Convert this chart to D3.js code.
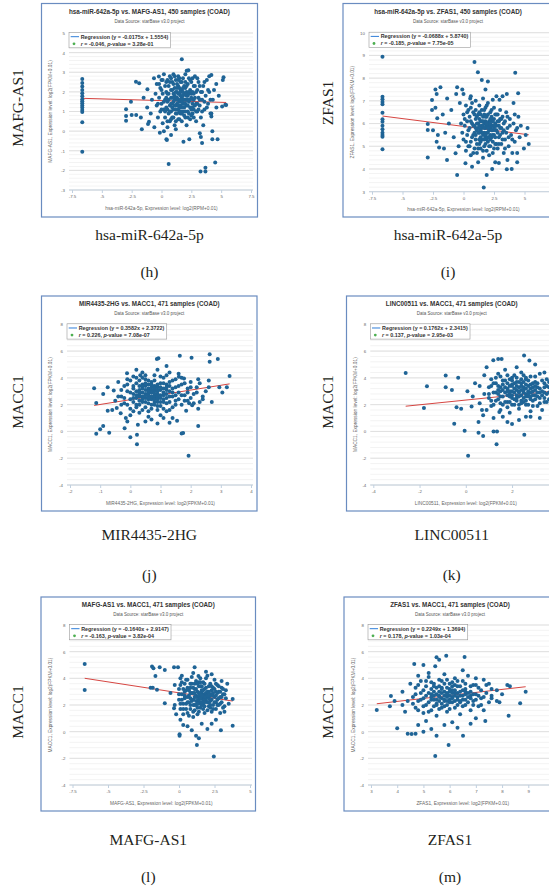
<!DOCTYPE html>
<html>
<head>
<meta charset="utf-8">
<script src="https://cdn.jsdelivr.net/npm/d3@7"></script>
<style>
body { margin: 0; background: #fff; }
svg { display: block; }
</style>
</head>
<body>
<script>
// ---- data ----
const titles = [
    "hsa-miR-642a-5p vs. MAFG-AS1, 450 samples (COAD)",
    "hsa-miR-642a-5p vs. ZFAS1, 450 samples (COAD)",
    "MIR4435-2HG vs. MACC1, 471 samples (COAD)",
    "LINC00511 vs. MACC1, 471 samples (COAD)",
    "MAFG-AS1 vs. MACC1, 471 samples (COAD)",
    "ZFAS1 vs. MACC1, 471 samples (COAD)"
]
const subtitle = "Data Source: starBase v3.0 project"
const xTitles = [
    "hsa-miR-642a-5p, Expression level: log2(RPM+0.01)",
    "hsa-miR-642a-5p, Expression level: log2(RPM+0.01)",
    "MIR4435-2HG, Expression level: log2(FPKM+0.01)",
    "LINC00511, Expression level: log2(FPKM+0.01)",
    "MAFG-AS1, Expression level: log2(FPKM+0.01)",
    "ZFAS1, Expression level: log2(FPKM+0.01)"
]
const yTitles = [
    "MAFG-AS1, Expression level: log2(FPKM+0.01)",
    "ZFAS1, Expression level: log2(FPKM+0.01)",
    "MACC1, Expression level: log2(FPKM+0.01)",
    "MACC1, Expression level: log2(FPKM+0.01)",
    "MACC1, Expression level: log2(FPKM+0.01)",
    "MACC1, Expression level: log2(FPKM+0.01)"
]
const slopes = [-0.0175, -0.0688, 0.3582, 0.1762, -0.1640, 0.2249]
const intercepts = [1.5554, 5.8740, 2.3722, 2.3415, 2.9147, 1.3694]
const rValues = ["-0.046", "-0.185", "0.226", "0.137", "-0.163", "0.178"]
const pValues = ["3.28e-01", "7.75e-05", "7.08e-07", "2.95e-03", "3.82e-04", "1.03e-04"]

const outerXLabels = ["hsa-miR-642a-5p", "hsa-miR-642a-5p", "MIR4435-2HG", "LINC00511", "MAFG-AS1", "ZFAS1"]
const outerYLabels = ["MAFG-AS1", "ZFAS1", "MACC1", "MACC1", "MACC1", "MACC1"]
const tags = ["(h)", "(i)", "(j)", "(k)", "(l)", "(m)"]

const xTicksH = [-7.5, -5, -2.5, 0, 2.5, 5, 7.5]
const xTicksI = [-7.5, -5, -2.5, 0, 2.5, 5, 7.5]
const xTicksJ = [-2, -1, 0, 1, 2, 3, 4]
const xTicksK = [-4, -2, 0, 2, 4]
const xTicksL = [-7.5, -5, -2.5, 0, 2.5, 5]
const xTicksM = [3, 4, 5, 6, 7, 8, 9, 10]
const yTicksH = [-3, -2, -1, 0, 1, 2, 3, 4, 5]
const yTicksI = [3, 4, 5, 6, 7, 8, 9, 10]
const yTicksMACC1 = [-4, -2, 0, 2, 4, 6, 8]

const pointsH = [
    [-6.64,2.65],[-6.64,2.45],[-6.64,2.27],[-6.64,2.1],[-6.64,1.93],[-6.64,1.78],[-6.64,1.63],[-6.64,1.52],[-6.64,1.42],[-6.64,1.31],[-6.64,1.2],[-6.64,1.08],[-6.64,0.98],[-6.64,0.45],[-6.64,-1.05],
    [-2.97,1.11],[-2.97,0.77],[-2.97,0.53],[-2.5,0.82],[-2.12,0.82],[-1.73,0.7],[-1.65,0.09],[-1.13,0.36],[-1.05,0.48],[-2.56,1.5],[-2.14,2.52],[-1.87,2.44],[-1.18,2.13],[-0.63,2.69],[-0.22,2.78],[-1.5,1.7],[-1.2,1.2],[-0.9,0.9],[-0.8,1.6],[-0.6,0.2],[-0.14,-0.08],
    [0.41,-0.42],[0.45,-0.45],[0.8,-0.2],[1.84,-0.54],[2.33,-0.42],[3.21,-0.11],[3.3,-0.3],[3.4,-0.6],[4.26,-0.42],[4.7,-0.42],[4.26,0.0],[4.18,0.74],[4.18,0.9],[5.08,1.25],[5.35,1.35],[5.42,1.33],[4.59,2.4],[5.14,2.6],[5.2,2.75],[4.18,2.86],[1.7,3.66],[2.11,3.08],[2.25,3.1],
    [0.6,-1.68],[3.27,-2.06],[3.68,-1.86],[3.68,-2.06],[4.5,-1.6],
    [-0.5,1.9],[-0.4,2.4],[-0.4,1.3],[-0.3,0.7],[-0.2,1.7],[-0.1,2.2],[-0.1,1.0],[0.0,2.6],[0.0,1.4],[0.1,0.4],[0.1,1.9],[0.2,2.9],[0.2,1.1],[0.3,2.3],[0.3,1.6],[0.3,0.7],[0.4,2.0],[0.4,1.2],[0.5,2.6],[0.5,0.2],[0.5,1.5],[0.6,1.9],[0.6,0.9],[0.6,2.3],[0.7,1.3],[0.7,2.8],[0.7,0.5],[0.8,1.7],[0.8,2.1],[0.8,1.0],[0.9,2.5],[0.9,1.4],[0.9,0.7],[1.0,1.9],[1.0,2.9],[1.0,1.1],[1.1,2.2],[1.1,1.6],[1.1,0.3],[1.2,1.3],[1.2,2.6],[1.2,0.9],[1.3,2.0],[1.3,1.7],[1.3,2.4],[1.4,1.1],[1.4,0.6],[1.4,2.8],[1.5,1.5],[1.5,2.2],[1.5,1.9],[1.6,0.9],[1.6,2.5],[1.6,1.3],[1.7,1.7],[1.7,2.1],[1.7,0.5],[1.8,1.4],[1.8,2.7],[1.8,1.0],[1.9,1.9],[1.9,2.3],[1.9,1.2],[2.0,1.6],[2.0,0.7],[2.0,2.9],[2.1,2.0],[2.1,1.3],[2.1,0.3],[2.2,1.8],[2.2,2.4],[2.2,1.0],[2.3,1.5],[2.3,2.7],[2.4,1.2],[2.4,2.1],[2.4,0.6],[2.5,1.7],[2.5,2.5],[2.6,1.4],[2.6,0.9],[2.6,2.0],[2.7,2.3],[2.7,1.1],[2.8,1.7],[2.8,2.8],[2.9,1.4],[2.9,0.5],[3.0,2.1],[3.0,1.0],[3.1,1.7],[3.1,2.5],[3.2,1.3],[3.3,2.0],[3.3,0.7],[3.4,1.6],[3.5,2.3],[3.6,1.1],[3.7,1.8],[3.8,2.6],[3.9,1.4],[4.0,2.0],[4.1,0.9],[4.3,1.6],[4.4,2.1],[4.6,1.2],[4.8,1.8],[3.5,0.3],[1.2,0.1],[0.2,0.0],
    [1.0,1.5],[1.4,1.6],[1.6,1.8],[1.8,1.6],[2.0,1.4],[1.3,1.4],[1.7,1.2],[1.5,1.0],[1.9,1.6],[2.3,1.9],[1.1,1.8],[0.8,1.4],[2.5,1.1],[1.6,2.1],[2.0,2.2],[1.2,2.0],[1.4,2.3],[2.7,1.6],[0.5,1.1],[0.4,1.7],
    [-0.3,1.4],[-0.2,2.4],[0.0,1.1],[0.0,2.1],[0.1,2.6],[0.2,1.5],[0.3,1.0],[0.4,2.5],[0.5,1.9],[0.5,0.5],[0.6,1.6],[0.7,2.5],[0.7,1.0],[0.8,0.6],[0.8,2.7],[0.9,1.2],[0.9,2.1],[1.0,0.7],[1.0,2.4],[1.1,1.3],[1.1,2.8],[1.2,1.7],[1.2,0.5],[1.3,2.2],[1.3,0.9],[1.4,1.9],[1.4,2.6],[1.5,1.2],[1.5,0.6],[1.5,2.7],[1.6,1.6],[1.6,2.0],[1.7,2.5],[1.7,0.9],[1.8,1.8],[1.8,2.2],[1.9,0.8],[1.9,1.4],[2.0,2.5],[2.0,1.0],[2.1,1.6],[2.1,2.3],[2.2,0.7],[2.2,1.3],[2.3,2.0],[2.3,0.9],[2.4,1.6],[2.4,2.6],[2.5,1.9],[2.5,0.8],[2.6,1.2],[2.6,2.7],[2.7,1.9],[2.7,0.7],[2.8,1.3],[2.8,2.3],[2.9,2.0],[2.9,1.0],[3.0,1.4],[3.0,2.7],[3.1,1.1],[3.2,2.3],[3.2,1.6],[3.4,1.0],[3.4,2.0],[3.6,1.5],[3.6,2.5],[3.8,1.2],[3.9,2.1],[4.1,1.6],[4.0,2.8],[0.9,1.7],[1.3,1.6],[1.7,1.5],[2.1,1.8],[1.2,1.1],[1.6,1.0],[2.0,1.9],[1.4,1.3],[1.8,2.0],[2.2,1.6]
]

const pointsI = [
    [-6.64,8.94],[-6.64,7.18],[-6.64,7.07],[-6.64,6.95],[-6.64,6.85],[-6.64,6.48],[-6.64,6.19],[-6.64,6.08],[-6.64,5.9],[-6.64,5.75],[-6.64,5.6],[-6.64,5.5],[-6.64,5.42],[-6.64,4.87],
    [-2.58,7.04],[-2.3,7.5],[-2.2,7.3],[-1.89,7.6],[-1.34,7.1],[-0.52,7.6],[-0.6,7.3],[-0.1,7.5],[0.0,7.3],[0.55,7.1],[0.9,8.71],[1.18,8.26],[1.5,7.92],[2.0,7.85],[1.8,7.5],[2.4,7.05],[2.95,7.05],[3.2,7.2],[3.55,7.3],[4.24,8.24],[4.48,7.33],[4.1,6.9],
    [-2.58,6.6],[-2.93,5.98],[-2.93,5.72],[-2.93,4.51],[-2.3,6.7],[-2.15,6.23],[-2.5,5.7],[-2.1,5.5],[-2.2,5.2],[-2.0,4.95],[-1.6,4.9],[-1.35,4.4],[-0.65,4.69],[-0.52,3.73],[0.16,4.25],[0.7,4.1],[1.66,3.19],[1.9,3.73],[2.35,4.0],[2.9,4.26],[3.55,3.99],[3.95,4.0],[4.4,4.3],[4.4,4.7],[5.1,5.5],[5.35,5.1],[4.95,4.9],[4.7,5.9],[5.25,5.8],
    [-1.7,6.4],[-1.2,6.0],[-1.0,6.6],[-0.8,5.4],[-1.5,5.6],[-0.3,6.9],[-0.4,5.0],
    [0.0,6.4],[0.0,5.3],[0.1,5.9],[0.2,6.8],[0.2,4.8],[0.3,6.1],[0.3,5.5],[0.4,6.6],[0.4,5.0],[0.5,5.8],[0.5,6.3],[0.6,5.2],[0.6,4.6],[0.7,6.0],[0.7,6.9],[0.8,5.5],[0.8,6.5],[0.9,4.9],[0.9,5.9],[1.0,6.2],[1.0,5.3],[1.0,7.0],[1.1,5.7],[1.1,4.7],[1.2,6.4],[1.2,6.0],[1.3,5.1],[1.3,5.6],[1.3,6.8],[1.4,6.1],[1.4,4.9],[1.5,5.8],[1.5,6.6],[1.5,5.3],[1.6,6.3],[1.6,4.5],[1.7,5.6],[1.7,6.0],[1.7,5.0],[1.8,6.7],[1.8,5.4],[1.9,5.9],[1.9,6.3],[1.9,4.8],[2.0,5.6],[2.0,6.9],[2.0,5.2],[2.1,6.1],[2.1,4.6],[2.2,5.8],[2.2,6.5],[2.2,5.0],[2.3,5.4],[2.3,6.2],[2.4,5.9],[2.4,4.7],[2.5,6.7],[2.5,5.5],[2.6,6.0],[2.6,5.1],[2.7,6.4],[2.7,5.7],[2.8,4.9],[2.8,6.1],[2.9,5.4],[3.0,6.6],[3.0,5.8],[3.1,5.1],[3.1,6.2],[3.2,5.6],[3.3,4.7],[3.3,6.0],[3.4,5.3],[3.5,6.5],[3.6,5.8],[3.7,5.0],[3.8,6.2],[3.9,5.5],[4.0,4.7],[4.1,6.0],[4.2,5.2],[4.3,5.7],[4.5,6.3],[4.6,5.4],[3.6,4.4],[2.6,4.3],[1.2,4.3],[0.6,7.2],[1.6,7.1],[2.7,7.2],
    [1.2,5.6],[1.5,5.9],[1.8,5.8],[2.0,6.0],[1.6,5.5],[2.2,5.5],[1.4,5.4],[1.9,5.3],[2.4,5.7],[1.1,6.0],[1.7,6.4],[2.3,5.9],[2.6,5.7],[0.9,5.6],[1.3,6.2],[2.1,5.7],[1.8,6.1],[2.5,6.2],[2.9,5.9],[1.0,5.8],
    [-0.2,6.0],[-0.1,5.6],[0.1,6.2],[0.2,5.2],[0.3,6.5],[0.4,5.7],[0.5,5.0],[0.6,6.1],[0.6,6.7],[0.7,5.4],[0.8,5.9],[0.8,4.7],[0.9,6.4],[1.0,5.5],[1.0,6.6],[1.1,5.1],[1.1,6.3],[1.2,5.8],[1.2,4.9],[1.3,5.9],[1.3,6.5],[1.4,5.2],[1.4,6.4],[1.5,5.6],[1.5,6.1],[1.6,4.8],[1.6,5.9],[1.7,6.6],[1.7,5.3],[1.8,5.1],[1.8,6.3],[1.9,5.6],[1.9,6.8],[2.0,5.4],[2.0,6.4],[2.1,5.0],[2.1,5.9],[2.2,6.2],[2.2,5.3],[2.3,5.7],[2.3,6.6],[2.4,5.2],[2.4,6.1],[2.5,5.8],[2.5,4.9],[2.6,6.4],[2.6,5.4],[2.7,5.9],[2.7,5.1],[2.8,6.4],[2.8,5.6],[2.9,6.1],[2.9,5.1],[3.0,5.5],[3.0,6.2],[3.1,5.8],[3.2,6.3],[3.2,5.3],[3.3,5.7],[3.4,6.1],[3.4,4.9],[3.5,5.6],[3.6,6.3],[3.7,5.4],[3.8,5.9],[4.0,5.3],[4.2,6.4],[4.4,5.8],[1.4,5.7],[1.7,5.8],[2.0,5.8],[2.2,6.0],[1.6,6.1],[1.9,6.0],[2.4,5.5],[1.3,5.3],[2.1,5.4],[2.6,5.9],[1.8,5.5],[2.3,6.3]
]

const pointsJ = [
    [-1.2,3.22],[-0.75,3.3],[-1.13,2.12],[-1.13,-0.17],[-1.0,0.16],[-0.9,0.4],[-0.7,-0.1],[0.0,-0.44],[0.22,-0.96],[0.22,-0.25],[1.93,-1.82],[1.7,-0.15],[1.75,-0.12],[2.25,0.4],[0.93,5.46],[0.88,5.4],[1.64,5.65],[2.03,5.5],[2.63,5.76],[2.9,5.4],[2.63,5.2],[1.2,4.89],[3.29,4.14],[1.61,4.09],[1.78,3.95],[2.25,3.9],[2.6,3.3],[2.95,3.3],[3.05,2.9],[-0.6,1.6],[-0.75,1.55],[-0.45,1.75],[-0.3,2.0],[-0.32,1.35],[-0.15,1.0],[-0.1,0.75],[-0.19,0.23],[0.25,0.5],[0.5,0.75],[0.7,0.9],[0.9,0.6],[1.1,1.0],[1.3,0.65],[1.4,1.0],[1.55,0.8],[1.95,2.1],[2.05,1.95],[2.25,1.7],[1.85,1.55],[-0.55,3.05],[-0.4,2.6],[-0.11,4.34],[0.33,4.2],[-0.9,2.8],[2.4,2.6],[2.7,2.2],[3.2,3.3],
    [-0.3,2.6],[-0.2,3.4],[-0.2,2.1],[-0.1,3.0],[-0.1,3.9],[0.0,2.4],[0.0,1.7],[0.1,3.2],[0.1,2.8],[0.1,4.1],[0.2,2.0],[0.2,3.6],[0.3,2.6],[0.3,1.4],[0.3,3.1],[0.4,4.4],[0.4,2.2],[0.4,3.5],[0.5,2.8],[0.5,1.8],[0.5,3.9],[0.6,2.4],[0.6,3.2],[0.6,1.5],[0.7,2.9],[0.7,3.7],[0.7,2.0],[0.8,2.6],[0.8,3.4],[0.8,4.2],[0.9,2.2],[0.9,3.0],[0.9,1.6],[1.0,2.7],[1.0,3.6],[1.0,1.9],[1.1,3.2],[1.1,2.4],[1.1,4.0],[1.2,2.8],[1.2,1.5],[1.2,3.5],[1.3,2.2],[1.3,3.0],[1.4,2.6],[1.4,3.8],[1.4,1.8],[1.5,3.3],[1.5,2.3],[1.6,2.9],[1.6,4.3],[1.7,2.0],[1.7,3.5],[1.8,2.7],[1.9,3.2],[1.9,2.3],[2.0,3.7],[2.1,2.8],[2.2,3.3],[2.3,2.2],[2.5,3.0],[2.6,3.8],[0.2,4.6],[0.9,4.6],[1.3,4.4],[-0.5,2.3],[-0.4,3.7],[0.0,1.2],[0.6,1.1],[1.0,1.2],
    [0.4,2.9],[0.6,2.7],[0.8,3.0],[0.5,2.5],[0.7,2.4],[0.9,2.8],[0.3,2.3],[0.6,3.5],[0.8,2.2],[1.0,3.1],[0.4,3.2],[0.2,2.5],[1.1,2.7],[0.7,3.3],[0.5,3.1],[0.9,3.3],[1.2,2.5],[0.3,3.8],[1.3,3.4],[0.1,2.2],
    [-0.3,3.1],[-0.2,2.5],[-0.1,2.0],[-0.1,3.5],[0.0,2.9],[0.0,3.8],[0.1,2.5],[0.1,1.5],[0.2,3.0],[0.2,4.0],[0.2,1.8],[0.3,2.8],[0.3,3.4],[0.4,1.6],[0.4,2.6],[0.4,4.0],[0.5,2.2],[0.5,3.4],[0.5,4.2],[0.6,2.9],[0.6,2.1],[0.6,3.8],[0.7,2.6],[0.7,3.1],[0.7,1.7],[0.8,2.4],[0.8,3.2],[0.8,3.8],[0.9,2.6],[0.9,3.5],[0.9,1.9],[1.0,2.2],[1.0,3.3],[1.0,4.1],[1.1,2.9],[1.1,1.7],[1.1,3.6],[1.2,2.1],[1.2,3.1],[1.2,4.2],[1.3,2.6],[1.3,3.7],[1.3,1.6],[1.4,2.9],[1.4,3.2],[1.5,2.0],[1.5,2.7],[1.5,3.9],[1.6,2.4],[1.6,3.4],[1.7,2.7],[1.7,4.0],[1.8,2.3],[1.8,3.6],[1.9,2.9],[2.0,2.5],[2.0,3.3],[2.1,2.1],[2.2,2.9],[2.3,3.6],[2.4,2.4],[0.3,2.0],[0.5,2.7],[0.7,2.9],[0.6,2.5],[0.8,2.8],[0.4,2.4],[0.9,2.4],[0.5,3.6],[0.7,3.5],[0.3,2.9],[0.8,2.0],[1.0,2.5],[0.6,3.0],[0.4,3.4],[0.2,2.7],[0.9,3.1],[1.1,2.2],[0.1,3.4],[1.2,3.3]
]

const pointsK = [
    [-2.6,4.37],[-1.81,1.75],[-1.68,3.37],[-0.87,4.17],[-0.87,3.3],[-0.6,3.1],[-0.33,4.0],[0.07,3.0],[-0.4,1.8],[-0.2,1.7],[-0.5,0.58],[-0.05,0.05],[0.1,-1.82],[0.55,-0.1],[0.75,-0.35],[1.33,-0.95],[1.2,0.0],[1.35,0.0],[2.53,-0.25],[1.19,5.32],[1.4,5.4],[1.55,5.4],[2.52,5.67],[2.75,5.3],[0.9,4.8],[0.25,1.87],[0.6,2.1],[0.7,1.6],[0.75,1.2],[0.55,0.7],[1.2,1.0],[1.45,1.45],[1.6,1.1],[1.8,0.7],[2.0,0.55],[2.3,0.85],[2.6,1.1],[2.8,1.1],[3.2,1.0],[0.4,3.6],[0.8,4.2],[0.3,2.6],[3.4,4.4],[3.0,5.0],[2.2,4.8],
    [1.0,3.3],[1.0,2.5],[1.1,3.9],[1.1,1.9],[1.2,2.9],[1.3,3.6],[1.3,2.3],[1.4,4.3],[1.4,3.1],[1.5,2.6],[1.5,1.6],[1.6,3.8],[1.6,2.0],[1.7,3.3],[1.7,4.6],[1.8,2.7],[1.8,2.2],[1.9,3.9],[1.9,3.0],[1.9,1.4],[2.0,2.5],[2.0,3.5],[2.1,4.2],[2.1,2.0],[2.2,3.1],[2.2,2.7],[2.3,3.7],[2.3,1.7],[2.4,2.3],[2.4,4.4],[2.5,3.3],[2.5,2.9],[2.6,2.0],[2.6,3.9],[2.7,2.6],[2.7,3.4],[2.8,1.5],[2.8,4.1],[2.9,3.0],[2.9,2.3],[3.0,3.7],[3.0,2.7],[3.1,1.9],[3.1,3.3],[3.2,4.3],[3.2,2.5],[3.3,3.0],[3.3,1.6],[3.4,3.6],[3.4,2.2],[3.5,2.8],[3.5,3.9],[3.6,2.4],[3.6,3.3],[3.7,1.8],[3.7,4.1],[0.8,2.8],[0.6,3.4],[0.9,1.6],
    [2.0,3.0],[2.3,2.9],[2.5,2.5],[2.7,3.0],[2.2,3.4],[2.4,3.6],[2.8,3.5],[1.9,2.6],[2.1,2.4],[2.6,3.2],[3.0,3.1],[2.4,2.7],[1.7,2.9],[2.9,2.7],[2.0,4.0],[1.5,3.3],[3.2,2.9],[2.6,2.3],[1.8,3.2],[3.4,3.3],
    [1.0,2.8],[1.1,3.4],[1.1,2.3],[1.2,3.6],[1.2,2.0],[1.3,2.9],[1.3,4.0],[1.4,2.4],[1.4,3.4],[1.5,3.0],[1.5,4.1],[1.5,2.1],[1.6,2.6],[1.6,3.5],[1.7,2.2],[1.7,3.8],[1.8,3.0],[1.8,4.2],[1.8,1.8],[1.9,3.4],[1.9,2.2],[2.0,2.0],[2.0,3.8],[2.0,2.7],[2.1,3.2],[2.1,3.6],[2.2,2.3],[2.2,4.0],[2.3,2.6],[2.3,3.3],[2.3,2.0],[2.4,3.1],[2.4,3.9],[2.5,2.2],[2.5,3.7],[2.5,4.2],[2.6,2.8],[2.6,3.5],[2.7,2.0],[2.7,3.8],[2.8,2.4],[2.8,3.2],[2.8,2.9],[2.9,3.6],[2.9,1.9],[3.0,2.4],[3.0,4.1],[3.1,2.9],[3.1,3.6],[3.2,2.1],[3.2,3.2],[3.3,2.7],[3.3,3.8],[3.4,2.5],[3.4,2.9],[3.5,3.4],[3.5,2.2],[3.6,2.9],[3.6,3.7],[3.7,2.6],[3.7,3.1],[1.9,2.8],[2.1,2.9],[2.2,2.5],[2.4,3.4],[2.6,2.6],[2.7,2.8],[2.5,3.1],[2.9,3.3],[2.3,3.0],[2.0,3.4],[2.8,2.6],[3.1,2.6],[1.6,3.1],[2.2,3.7],[1.4,2.8],[3.0,3.4],[2.6,4.0],[1.8,3.6],[2.4,2.1]
]

const pointsL = [
    [-6.64,5.08],[-6.64,3.13],[-1.9,4.88],[-1.8,4.75],[-1.36,4.83],[-1.0,4.63],[-0.35,4.83],[-0.07,4.83],[1.1,4.83],[-1.66,4.18],[-2.0,3.3],[-1.85,3.3],[-1.55,3.15],[-1.0,2.13],[-0.3,2.0],[-0.35,1.75],[0.04,-0.2],[0.04,-0.3],[1.26,-1.0],[2.45,-1.87],[3.78,0.45],[2.95,0.1],[3.78,2.45],[3.2,1.5],[1.37,4.18],[-0.6,2.9],[-0.3,3.5],[-0.2,1.3],[0.1,0.9],[0.3,0.5],[0.6,0.4],[0.9,0.1],[1.2,-0.3],[1.4,-0.5],[1.6,0.6],[2.0,0.2],[2.3,0.6],[2.6,0.9],[3.0,3.8],[3.3,3.1],[0.2,4.2],
    [0.0,2.4],[0.0,3.2],[0.1,1.7],[0.2,2.8],[0.2,3.7],[0.3,2.1],[0.3,1.3],[0.4,3.0],[0.4,2.5],[0.5,3.9],[0.5,1.7],[0.6,2.2],[0.6,3.3],[0.7,2.7],[0.7,1.2],[0.8,3.6],[0.8,2.0],[0.9,2.9],[0.9,4.1],[1.0,2.4],[1.0,1.5],[1.1,3.2],[1.1,2.0],[1.2,3.8],[1.2,2.7],[1.3,1.3],[1.3,2.3],[1.4,3.4],[1.4,2.9],[1.5,1.8],[1.5,4.0],[1.6,2.5],[1.6,3.1],[1.7,2.0],[1.7,3.7],[1.8,2.8],[1.8,1.4],[1.9,2.3],[1.9,3.3],[2.0,4.2],[2.0,2.6],[2.1,1.9],[2.1,3.0],[2.2,3.6],[2.2,2.3],[2.3,1.5],[2.3,2.8],[2.4,3.3],[2.4,2.0],[2.5,3.9],[2.5,2.6],[2.6,3.0],[2.6,1.7],[2.7,2.4],[2.7,3.5],[2.8,2.0],[2.8,3.0],[2.9,2.6],[2.9,1.4],[3.0,3.3],[3.0,2.2],[3.1,2.8],[3.2,1.9],[3.3,2.5],[3.4,3.6],[3.5,2.1],[0.1,4.0],[1.0,4.4],[1.9,4.5],[2.3,4.3],
    [1.2,2.3],[1.5,2.6],[1.7,2.4],[1.9,2.7],[1.4,2.1],[1.6,2.9],[2.1,2.5],[1.3,3.0],[1.8,3.2],[2.0,2.2],[1.1,2.6],[2.3,3.1],[1.5,3.4],[2.2,2.0],[1.0,2.9],[1.7,1.7],[2.4,2.7],[0.8,2.5],[1.4,3.7],[2.6,2.2],
    [0.0,2.8],[0.1,2.1],[0.1,3.5],[0.2,2.4],[0.3,3.2],[0.3,1.7],[0.4,2.7],[0.4,3.6],[0.5,2.1],[0.5,3.1],[0.6,1.4],[0.6,2.6],[0.6,3.9],[0.7,2.2],[0.7,3.1],[0.8,1.7],[0.8,2.9],[0.8,3.3],[0.9,2.3],[0.9,3.6],[1.0,2.0],[1.0,3.3],[1.0,1.1],[1.1,2.9],[1.1,3.6],[1.1,1.6],[1.2,2.0],[1.2,3.2],[1.3,2.6],[1.3,3.6],[1.3,1.8],[1.4,2.4],[1.4,1.5],[1.5,2.9],[1.5,2.2],[1.5,3.7],[1.6,2.0],[1.6,3.4],[1.7,2.7],[1.7,3.1],[1.8,2.2],[1.8,3.6],[1.8,1.9],[1.9,2.9],[1.9,4.0],[2.0,3.0],[2.0,1.6],[2.1,2.2],[2.1,3.4],[2.2,2.7],[2.2,1.8],[2.3,3.4],[2.3,2.4],[2.4,2.9],[2.4,1.7],[2.5,2.2],[2.5,3.2],[2.6,2.7],[2.6,3.6],[2.7,2.0],[2.7,2.9],[2.8,2.5],[2.8,3.4],[2.9,3.0],[2.9,2.1],[3.0,2.6],[3.1,3.2],[3.1,1.8],[3.2,2.8],[1.2,2.6],[1.4,2.7],[1.6,2.2],[1.7,2.5],[1.9,2.5],[2.0,2.7],[1.3,2.1],[1.5,2.5],[2.1,2.9],[1.8,2.6],[1.6,2.7]
]

const pointsM = [
    [4.65,5.08],[5.5,5.58],[5.6,5.4],[5.87,5.7],[5.45,4.9],[6.57,5.6],[3.76,2.68],[3.22,1.63],[3.72,1.9],[4.0,0.25],[4.4,-0.15],[4.55,-0.17],[4.7,-0.15],[5.45,-1.82],[5.96,-1.0],[6.51,-0.3],[8.69,2.13],[8.25,1.2],[7.9,2.2],[7.36,0.8],[8.9,3.0],[8.3,3.4],[3.9,2.3],[4.2,3.0],[4.3,1.5],[4.4,2.3],[4.5,3.6],[4.2,2.0],[4.8,0.5],[5.0,0.0],[5.1,0.8],[5.3,0.2],[5.5,-0.3],[5.8,0.5],[6.1,0.7],[6.3,0.3],[6.8,0.6],[7.0,1.0],[7.3,1.6],[7.6,2.5],[7.8,3.1],[7.5,3.6],[7.0,4.0],[6.5,4.6],[5.2,4.4],[4.8,4.2],[5.0,5.0],
    [4.6,2.6],[4.7,3.3],[4.7,1.8],[4.8,2.3],[4.9,3.8],[4.9,2.9],[5.0,1.4],[5.0,2.5],[5.1,3.4],[5.1,2.0],[5.2,2.9],[5.2,4.1],[5.3,1.6],[5.3,2.4],[5.4,3.6],[5.4,3.0],[5.5,2.1],[5.5,1.2],[5.6,2.7],[5.6,3.9],[5.7,1.8],[5.7,3.3],[5.8,2.4],[5.8,4.3],[5.9,2.9],[5.9,1.5],[6.0,3.6],[6.0,2.2],[6.1,3.1],[6.1,2.6],[6.2,4.0],[6.2,1.8],[6.3,2.9],[6.3,3.4],[6.4,2.3],[6.4,1.3],[6.5,3.8],[6.5,2.7],[6.6,3.2],[6.6,2.0],[6.7,2.6],[6.7,4.2],[6.8,3.0],[6.8,1.6],[6.9,3.5],[6.9,2.3],[7.0,2.8],[7.1,3.3],[7.1,1.9],[7.2,2.5],[7.3,3.9],[7.4,2.9],[7.5,2.2],[7.6,3.2],[8.0,2.8],[8.2,3.5],
    [5.6,2.3],[5.9,2.6],[6.1,2.9],[5.8,3.0],[6.3,2.6],[5.5,2.8],[6.0,2.7],[6.2,2.3],[5.7,2.1],[6.4,3.0],[5.4,2.4],[6.0,3.2],[5.9,2.0],[6.6,2.8],[5.3,3.2],[6.5,2.4],[5.8,3.6],[6.2,3.5],[5.6,3.4],[6.8,2.5],
    [4.6,2.1],[4.7,2.8],[4.8,3.5],[4.8,1.6],[4.9,2.4],[5.0,3.1],[5.0,1.9],[5.1,2.7],[5.1,3.8],[5.2,2.2],[5.2,1.5],[5.3,2.8],[5.3,3.7],[5.4,1.9],[5.4,2.7],[5.5,3.3],[5.5,2.4],[5.6,1.7],[5.6,3.0],[5.7,2.5],[5.7,3.8],[5.7,2.9],[5.8,1.9],[5.8,2.7],[5.9,3.3],[5.9,3.9],[6.0,2.4],[6.0,1.7],[6.1,3.4],[6.1,2.2],[6.2,2.7],[6.2,3.1],[6.3,2.0],[6.3,3.8],[6.4,2.7],[6.4,3.4],[6.5,1.9],[6.5,3.1],[6.6,2.4],[6.6,3.6],[6.7,2.9],[6.7,2.2],[6.8,3.4],[6.9,2.0],[6.9,2.8],[7.0,3.5],[7.0,2.4],[7.1,2.7],[7.2,3.1],[7.2,2.0],[7.3,2.6],[7.4,3.5],[7.6,2.7],[7.8,2.3],[5.8,2.3],[6.0,3.0],[6.1,2.5],[5.9,2.8],[6.2,2.9],[5.6,2.6],[6.3,2.4],[5.7,3.2],[6.1,3.7],[5.5,2.0],[6.4,2.2],[5.4,3.4],[6.6,3.0],[5.3,2.6],[6.8,2.7],[5.9,2.3]
]

// ---- layout (pixels) ----
const layout = [
    { box: [41.5, 3.5, 257.5, 217], xr: [72, 251], yr: [190, 33], xd: [-7.5, 7.5], yd: [-3, 5], minor: 0.2, nameY: 240, tagY: 277, sideX: 23, sideY: 108 },
    { box: [343, 3.5, 553, 217], xr: [372, 555], yr: [191.7, 32.7], xd: [-7.5, 7.5], yd: [3, 10], minor: 0.2, nameY: 240, tagY: 277, sideX: 333, sideY: 103 },
    { box: [41.5, 296, 257, 511], xr: [70, 251], yr: [485, 324.3], xd: [-2, 4], yd: [-4, 8], minor: 0.4, nameY: 540, tagY: 580, sideX: 23, sideY: 402 },
    { box: [346.5, 296, 557, 511], xr: [373.3, 558.3], yr: [485, 324.3], xd: [-4, 4], yd: [-4, 8], minor: 0.4, nameY: 540, tagY: 580, sideX: 333, sideY: 402 },
    { box: [41, 597, 255.5, 811], xr: [72.5, 250], yr: [785, 625], xd: [-7.5, 5], yd: [-4, 8], minor: 0.4, nameY: 845, tagY: 882, sideX: 23, sideY: 712 },
    { box: [344, 597, 556, 811], xr: [371, 554.5], yr: [785, 625], xd: [3, 10], yd: [-4, 8], minor: 0.4, nameY: 845, tagY: 882, sideX: 333, sideY: 712 }
]
const pageWidth = 549

const allPoints = [pointsH, pointsI, pointsJ, pointsK, pointsL, pointsM]
const allXTicks = [xTicksH, xTicksI, xTicksJ, xTicksK, xTicksL, xTicksM]
const allYTicks = [yTicksH, yTicksI, yTicksMACC1, yTicksMACC1, yTicksMACC1, yTicksMACC1]

const svg = d3.select("body").append("svg")
    .attr("width", pageWidth)
    .attr("height", 889)
    .style("font-family", "'Liberation Sans', Arial, sans-serif")

function drawPanel(i) {
    const L = layout[i]
    const pts = allPoints[i]
    const [bx0, by0, bx1, by1] = L.box
    const g = svg.append("g")

    g.append("rect")
        .attr("x", bx0).attr("y", by0)
        .attr("width", bx1 - bx0).attr("height", by1 - by0)
        .attr("fill", "#fff")
        .attr("stroke", "#6a8cc0")
        .attr("stroke-width", 1.2)

    const cx = (bx0 + bx1) / 2
    g.append("text")
        .attr("x", cx).attr("y", by0 + 10)
        .attr("text-anchor", "middle")
        .attr("font-size", 6.3).attr("font-weight", "bold")
        .attr("fill", "#333")
        .text(titles[i])
    g.append("text")
        .attr("x", cx).attr("y", by0 + 19.3)
        .attr("text-anchor", "middle")
        .attr("font-size", 4.5)
        .attr("fill", "#555")
        .text(subtitle)

    const x = d3.scaleLinear().domain(L.xd).range(L.xr)
    const y = d3.scaleLinear().domain(L.yd).range(L.yr)
    const gx0 = L.xr[0] - 3
    const gx1 = L.xr[1] + 2

    // horizontal grid, minor then major
    const minorVals = d3.range(L.yd[0], L.yd[1] + 1e-6, L.minor)
    g.append("g").selectAll("line")
        .data(minorVals)
        .join("line")
        .attr("x1", gx0).attr("x2", gx1)
        .attr("y1", (d) => y(d)).attr("y2", (d) => y(d))
        .attr("stroke", "#e6e6e6")
        .attr("stroke-width", 0.5)
    g.append("g").selectAll("line")
        .data(allYTicks[i])
        .join("line")
        .attr("x1", gx0).attr("x2", gx1)
        .attr("y1", (d) => y(d)).attr("y2", (d) => y(d))
        .attr("stroke", "#d2d2d2")
        .attr("stroke-width", 0.6)

    const ay = g.append("g")
        .attr("transform", `translate(${gx0},0)`)
        .call(d3.axisLeft(y).tickValues(allYTicks[i]).tickSize(0).tickPadding(4).tickFormat((d) => String(d)))
    ay.attr("font-size", 4.4).attr("font-family", null)
    ay.select(".domain").remove()
    ay.selectAll("text").attr("fill", "#666")

    // ticks that fall past the cropped page edge are not shown in the figure
    const xt = allXTicks[i].filter((d) => x(d) < pageWidth - 4)
    const ax = g.append("g")
        .attr("transform", `translate(0,${L.yr[0]})`)
        .call(d3.axisBottom(x).tickValues(xt).tickSize(3).tickPadding(2.2).tickFormat((d) => String(d)))
    ax.attr("font-size", 4.4).attr("font-family", null)
    ax.select(".domain").remove()
    ax.selectAll("line").attr("stroke", "#c0d0e0")
    ax.selectAll("text").attr("fill", "#666")
    g.append("line")
        .attr("x1", gx0).attr("x2", gx1)
        .attr("y1", L.yr[0]).attr("y2", L.yr[0])
        .attr("stroke", "#c0d0e0")
        .attr("stroke-width", 0.8)

    g.append("text")
        .attr("x", (L.xr[0] + L.xr[1]) / 2).attr("y", L.yr[0] + 19.5)
        .attr("text-anchor", "middle")
        .attr("font-size", 4.8)
        .attr("fill", "#666")
        .text(xTitles[i])
    g.append("text")
        .attr("transform", `translate(${bx0 + 10.7},${(L.yr[0] + L.yr[1]) / 2}) rotate(-90)`)
        .attr("text-anchor", "middle")
        .attr("font-size", 4.8)
        .attr("fill", "#666")
        .text(yTitles[i])

    // regression line across the data's x extent
    const ext = d3.extent(pts, (d) => d[0])
    g.append("line")
        .attr("x1", x(ext[0])).attr("y1", y(slopes[i] * ext[0] + intercepts[i]))
        .attr("x2", x(ext[1])).attr("y2", y(slopes[i] * ext[1] + intercepts[i]))
        .attr("stroke", "#d64541")
        .attr("stroke-width", 1)

    g.append("g").selectAll("circle")
        .data(pts)
        .join("circle")
        .attr("cx", (d) => x(d[0]))
        .attr("cy", (d) => y(d[1]))
        .attr("r", 2)
        .attr("fill", "#1f6496")

    // legend
    const lg = g.append("g").attr("transform", `translate(${gx0},${L.yr[1] - 0.5})`)
    const box = lg.append("rect")
        .attr("fill", "#fff")
        .attr("stroke", "#999")
        .attr("stroke-width", 0.6)
    lg.append("line")
        .attr("x1", 1.7).attr("x2", 10)
        .attr("y1", 4.2).attr("y2", 4.2)
        .attr("stroke", "#2f7ed8")
        .attr("stroke-width", 1)
    const t1 = lg.append("text")
        .attr("x", 11.7).attr("y", 6)
        .attr("font-size", 5.4).attr("font-weight", "bold")
        .attr("fill", "#333")
        .text(`Regression (y = ${slopes[i].toFixed(4)}x + ${intercepts[i].toFixed(4)})`)
    lg.append("circle")
        .attr("cx", 5).attr("cy", 11.3).attr("r", 1.4)
        .attr("fill", "#4caf50")
    const t2 = lg.append("text")
        .attr("x", 11.7).attr("y", 13.2)
        .attr("font-size", 5.4).attr("font-weight", "bold")
        .attr("fill", "#333")
    t2.append("tspan").attr("font-style", "italic").text("r")
    t2.append("tspan").text(` = ${rValues[i]}, `)
    t2.append("tspan").attr("font-style", "italic").text("p")
    t2.append("tspan").text(`-value = ${pValues[i]}`)
    const w = Math.max(t1.node().getComputedTextLength(), t2.node().getComputedTextLength()) + 14
    box.attr("width", w).attr("height", 15.3)

    // figure labels outside the chart
    const serif = "'Liberation Serif', 'Times New Roman', serif"
    svg.append("text")
        .attr("x", cx).attr("y", L.nameY)
        .attr("text-anchor", "middle")
        .attr("font-family", serif).attr("font-size", 15.5)
        .attr("fill", "#231f20")
        .text(outerXLabels[i])
    svg.append("text")
        .attr("x", cx).attr("y", L.tagY)
        .attr("text-anchor", "middle")
        .attr("font-family", serif).attr("font-size", 15.5)
        .attr("fill", "#231f20")
        .text(tags[i])
    svg.append("text")
        .attr("transform", `translate(${L.sideX},${L.sideY}) rotate(-90)`)
        .attr("text-anchor", "middle")
        .attr("font-family", serif).attr("font-size", 15.5)
        .attr("fill", "#231f20")
        .text(outerYLabels[i])
}

for (let i = 0; i < 6; i++) drawPanel(i)
</script>
</body>
</html>
